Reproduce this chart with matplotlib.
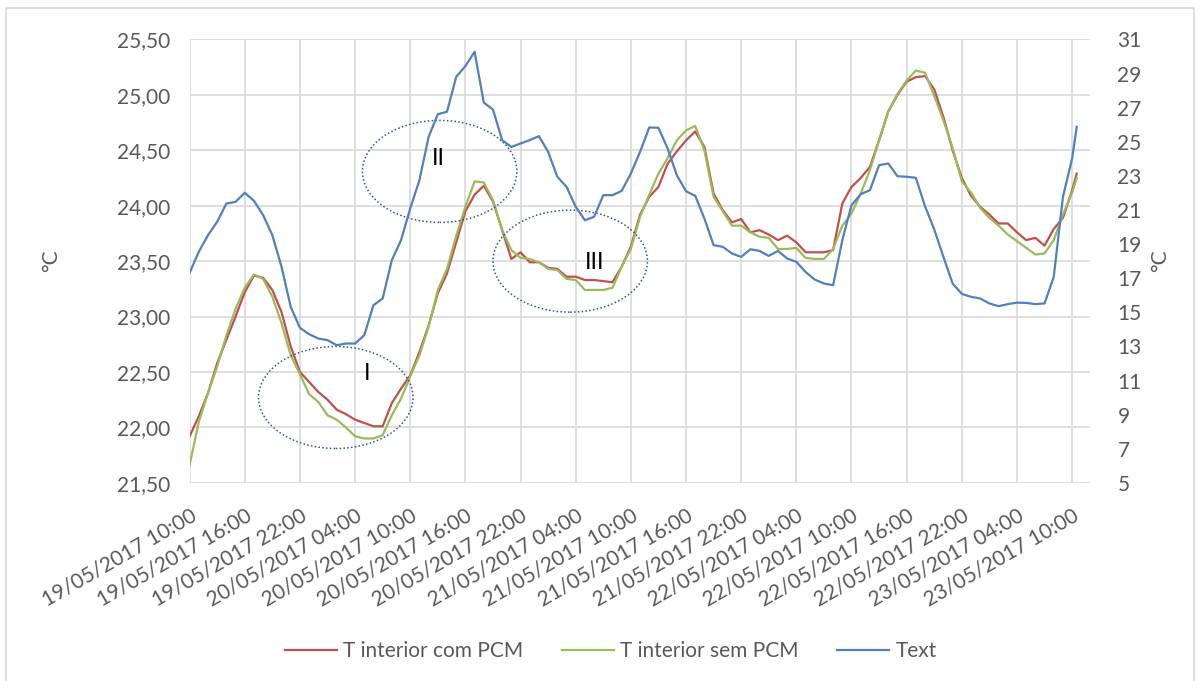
import matplotlib
matplotlib.use('Agg')
import matplotlib.pyplot as plt
import matplotlib.dates as mdates
from matplotlib.patches import Ellipse, Rectangle
import numpy as np
import pandas as pd

plt.rcParams['font.family'] = ['Lato', 'DejaVu Sans']

# hourly readings from 19/05/2017 10:00, last one at 23/05 10:30
start = pd.Timestamp('2017-05-19 10:00')
hours = list(range(97)) + [96.5]
times = start + pd.to_timedelta(hours, unit='h')

t_com = [21.92, 22.10, 22.31, 22.58, 22.79, 23.00, 23.22, 23.37, 23.35, 23.24,
         23.04, 22.73, 22.50, 22.41, 22.32, 22.25, 22.16, 22.12, 22.07, 22.04,
         22.01, 22.01, 22.22, 22.35, 22.47, 22.68, 22.92, 23.21, 23.39, 23.67,
         23.95, 24.10, 24.18, 24.04, 23.78, 23.52, 23.58, 23.49, 23.49, 23.44,
         23.43, 23.36, 23.36, 23.33, 23.33, 23.32, 23.31, 23.45, 23.63, 23.92,
         24.08, 24.17, 24.38, 24.49, 24.59, 24.67, 24.53, 24.11, 23.96, 23.85,
         23.88, 23.76, 23.78, 23.74, 23.69, 23.73, 23.67, 23.58, 23.58, 23.58,
         23.60, 24.02, 24.17, 24.25, 24.35, 24.59, 24.85, 25.00, 25.12, 25.16,
         25.17, 25.05, 24.80, 24.50, 24.25, 24.09, 23.99, 23.92, 23.84, 23.84,
         23.76, 23.69, 23.71, 23.64, 23.79, 23.89, 24.14, 24.29]

t_sem = [21.66, 22.05, 22.31, 22.55, 22.83, 23.07, 23.26, 23.38, 23.34, 23.18,
         22.94, 22.65, 22.48, 22.30, 22.23, 22.11, 22.07, 22.00, 21.92, 21.90,
         21.90, 21.93, 22.11, 22.26, 22.46, 22.65, 22.91, 23.24, 23.43, 23.73,
         23.99, 24.22, 24.21, 24.05, 23.78, 23.60, 23.53, 23.52, 23.49, 23.43,
         23.42, 23.34, 23.33, 23.24, 23.24, 23.24, 23.26, 23.45, 23.61, 23.90,
         24.10, 24.29, 24.43, 24.59, 24.68, 24.72, 24.50, 24.08, 23.95, 23.82,
         23.82, 23.76, 23.72, 23.71, 23.61, 23.61, 23.62, 23.53, 23.52, 23.52,
         23.61, 23.82, 23.93, 24.11, 24.32, 24.59, 24.85, 25.01, 25.13, 25.22,
         25.20, 24.99, 24.77, 24.52, 24.22, 24.12, 23.98, 23.89, 23.82, 23.74,
         23.68, 23.62, 23.56, 23.57, 23.69, 23.92, 24.12, 24.25]

t_ext = [17.31, 18.55, 19.52, 20.31, 21.38, 21.48, 22.01, 21.54, 20.70, 19.52,
         17.67, 15.32, 14.09, 13.72, 13.46, 13.37, 13.07, 13.17, 13.17, 13.66,
         15.42, 15.81, 18.06, 19.23, 21.09, 22.75, 25.29, 26.62, 26.76, 28.81,
         29.44, 30.28, 27.30, 26.89, 25.10, 24.70, 24.90, 25.10, 25.33, 24.41,
         22.95, 22.36, 21.19, 20.40, 20.60, 21.87, 21.87, 22.12, 23.14, 24.41,
         25.84, 25.82, 24.61, 23.04, 22.10, 21.83, 20.50, 18.94, 18.84, 18.45,
         18.25, 18.70, 18.60, 18.31, 18.60, 18.16, 17.96, 17.37, 16.92, 16.69,
         16.59, 19.23, 21.28, 21.93, 22.16, 23.63, 23.73, 22.98, 22.95, 22.89,
         21.22, 19.86, 18.25, 16.69, 16.08, 15.91, 15.81, 15.52, 15.36, 15.48,
         15.57, 15.55, 15.48, 15.52, 17.08, 21.77, 24.02, 25.88]

tick_times = pd.date_range(start, periods=17, freq='6h')
tick_labels = [t.strftime('%d/%m/%Y %H:%M') for t in tick_times]
left_ticks = np.arange(21.5, 25.51, 0.5)
right_ticks = np.arange(5, 32, 2)

# marked zones: label, ellipse centre (hours, degC), label position
zones = [('I', 15.9, 22.27, 19.3, 22.49),
         ('II', 27.2, 24.31, 27.1, 24.43),
         ('III', 41.4, 23.50, 44.1, 23.49)]

grey = '#595959'
grid = '#d9d9d9'

fig = plt.figure(figsize=(12, 6.81), dpi=100)
fig.subplots_adjust(left=0.158, right=0.908, top=0.942, bottom=0.291)
ax = fig.add_subplot(111)
ax2 = ax.twinx()

l1, = ax.plot(times, t_com, color='#c0504d', lw=1.6, solid_joinstyle='round')
l2, = ax.plot(times, t_sem, color='#9bbb59', lw=1.6, solid_joinstyle='round')
l3, = ax2.plot(times, t_ext, color='#4f81bd', lw=1.6, solid_joinstyle='round')

ax.set_xlim(start, start + pd.Timedelta(hours=97.9))
ax.set_ylim(21.5, 25.5)
ax2.set_ylim(5, 31)

ax.set_xticks(tick_times)
ax.set_xticklabels(tick_labels, rotation=30, ha='right', va='top',
                   rotation_mode='anchor', fontsize=15, color=grey)

ax.set_yticks(left_ticks)
ax.set_yticklabels([f'{v:.2f}'.replace('.', ',') for v in left_ticks],
                   fontsize=15, color=grey)
ax2.set_yticks(right_ticks)
ax2.set_yticklabels([str(v) for v in right_ticks], fontsize=15, color=grey)

ax.tick_params(axis='x', length=0, pad=16)
ax.tick_params(axis='y', length=0, pad=14)
ax2.tick_params(axis='y', length=0, pad=20)

for a in (ax, ax2):
    for s in a.spines.values():
        s.set_visible(False)
ax.grid(True, color=grid, lw=1.2)
ax.set_axisbelow(True)

fig.text(0.043, 0.617, '°C', rotation=90, ha='center', va='center',
         fontsize=15, color=grey)
fig.text(0.967, 0.617, '°C', rotation=90, ha='center', va='center',
         fontsize=15, color=grey)

for name, cx, cy, tx, ty in zones:
    centre = mdates.date2num(start + pd.Timedelta(hours=cx))
    ax2.add_patch(Ellipse((centre, cy), width=16.8 / 24, height=0.92,
                          transform=ax.transData, fill=False,
                          ls=(0, (1, 1.5)), lw=1.1, color='#2f5597'))
    ax2.text(start + pd.Timedelta(hours=tx), ty, name, transform=ax.transData,
             ha='center', va='center', fontsize=17, color='black')

fig.legend([l1, l2, l3], ['T interior com PCM', 'T interior sem PCM', 'Text'],
           loc='center', bbox_to_anchor=(0.509, 0.044), ncol=3, frameon=False,
           fontsize=15, labelcolor=grey, handlelength=2.5, handletextpad=0.3,
           columnspacing=1.85)

fig.add_artist(Rectangle((0.005, -0.01), 0.99, 0.998, transform=fig.transFigure,
                         fill=False, edgecolor=grid, lw=1.2))

fig.savefig('out.png', dpi=100)
